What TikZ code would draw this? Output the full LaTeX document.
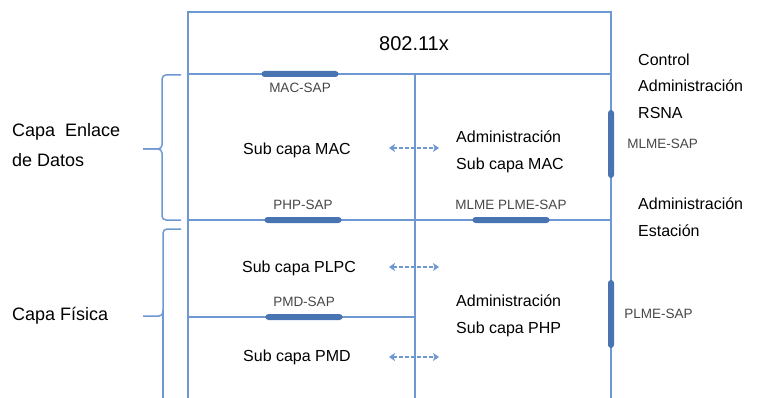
\documentclass[tikz,border=0pt]{standalone}
\usepackage{fontspec}
\setmainfont{Liberation Sans}
\usetikzlibrary{arrows.meta,positioning}
\definecolor{linea}{RGB}{110,152,210}
\definecolor{barra}{RGB}{72,116,178}
\definecolor{sapgris}{RGB}{70,70,70}

\begin{document}
\begin{tikzpicture}[x=1pt, y=-1pt,
    capa/.style = {line width=1.8pt, linea},
    sap/.style = {rectangle, rounded corners=3pt, fill=barra, inner sep=0pt, minimum width=77pt, minimum height=6pt},
    vsap/.style = {sap, minimum width=6pt, minimum height=68pt},
    saplabel/.style = {font=\fontsize{13.5}{15}\selectfont, text=sapgris, inner sep=1pt},
    texto/.style = {font=\fontsize{16}{26.5}\selectfont, align=left, inner sep=0pt},
    capatexto/.style = {font=\fontsize{18}{30}\selectfont, align=left, inner sep=0pt, anchor=west},
    flecha/.style = {{Stealth[length=6pt,width=8pt,inset=1.5pt]}-{Stealth[length=6pt,width=8pt,inset=1.5pt]}, dash pattern=on 4pt off 2pt, linea, line width=1.8pt},
    llave/.style = {linea, line width=1.5pt, rounded corners=4pt}]
  \useasboundingbox (0,0) rectangle (759,398);
  \clip (0,0) rectangle (759,398);

  % marco de capas
  \coordinate (sup izq) at (188,12);
  \coordinate (sup der) at (611,12);
  \draw[capa] (188,398) -- (sup izq) -- (sup der) -- (611,398);
  \draw[capa] (188,74) -- (611,74);
  \draw[capa] (415,74) -- (415,398);
  \draw[capa] (188,220) -- (611,220);
  \draw[capa] (188,317) -- (415,317);

  \node[font=\fontsize{20}{22}\selectfont] (estandar) at (414,44) {802.11x};

  % puntos de acceso
  \node[sap] (macsap) at (300,74) {};
  \node[saplabel, below=5pt of macsap] (macsapt) {MAC-SAP};
  \node[sap] (phpsap) at (303,220) {};
  \node[saplabel, above=6pt of phpsap] (phpsapt) {PHP-SAP};
  \node[sap] (mlmeplmesap) at (511,220) {};
  \node[saplabel, above=6pt of mlmeplmesap] (mlmeplmesapt) {MLME PLME-SAP};
  \node[sap] (pmdsap) at (304,317) {};
  \node[saplabel, above=6pt of pmdsap] (pmdsapt) {PMD-SAP};
  \node[vsap] (mlmesap) at (611,144) {};
  \node[saplabel, right=12pt of mlmesap] (mlmesapt) {MLME-SAP};
  \node[vsap] (plmesap) at (611,314) {};
  \node[saplabel, right=9pt of plmesap] (plmesapt) {PLME-SAP};

  % subcapas
  \node[texto] (submac) at (297,150) {Sub capa MAC};
  \node[texto] (subplpc) at (299,268) {Sub capa PLPC};
  \node[texto] (subpmd) at (297,357) {Sub capa PMD};
  \node[texto, anchor=west] (admmac) at (456,152) {Administración\\Sub capa MAC};
  \node[texto, anchor=west] (admphp) at (456,316) {Administración\\Sub capa PHP};
  \node[texto, anchor=west] (control) at (638,86) {Control\\Administración\\RSNA};
  \node[texto, anchor=west] (estacion) at (638,217) {Administración\\Estación};

  % flechas entre subcapas y administracion
  \coordinate (macl) at (389,148);  \coordinate (macr) at (439,148);
  \coordinate (plpcl) at (389,267); \coordinate (plpcr) at (439,267);
  \coordinate (pmdl) at (389,357);  \coordinate (pmdr) at (439,357);
  \draw[flecha] (macl) -- (macr);
  \draw[flecha] (plpcl) -- (plpcr);
  \draw[flecha] (pmdl) -- (pmdr);

  % capas y llaves
  \node[capatexto] (enlace) at (12,145) {Capa\ \ Enlace\\de Datos};
  \node[capatexto] (fisica) at (12,316) {Capa Física};
  \coordinate (enlacepunta) at (143,149);
  \coordinate (fisicapunta) at (143,316);
  \draw[llave] (181,75) -- (162,75) -- (162,149) -- (enlacepunta);
  \draw[llave] (181,220) -- (162,220) -- (162,149) -- (enlacepunta);
  \draw[llave] (181,229) -- (163,229) -- (163,316) -- (fisicapunta);
  \draw[llave] (163,310) -- (163,405);
\end{tikzpicture}
\end{document}
